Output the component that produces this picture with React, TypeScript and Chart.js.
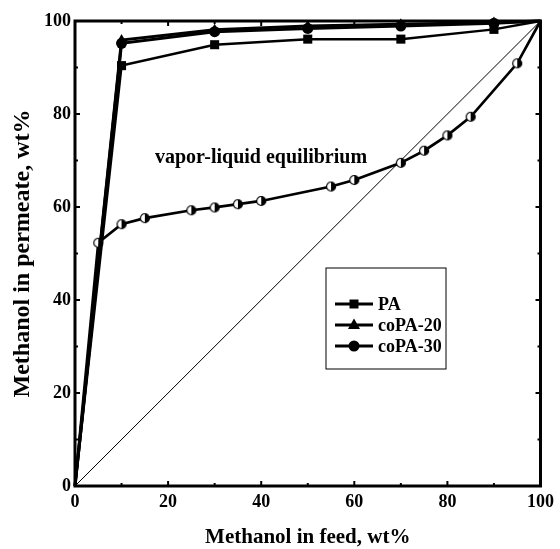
import { useEffect, useRef } from "react";
import { Chart, registerables } from "chart.js";

Chart.register(...registerables);

// Pervaporation: methanol content in permeate vs. feed
const membraneFeed = [0, 10, 30, 50, 70, 90, 100];
const paPermeate = [0, 90.4, 94.9, 96.1, 96.1, 98.2, 100];
const coPA20Permeate = [0, 95.9, 98.1, 98.9, 99.3, 99.7, 100];
const coPA30Permeate = [0, 95.2, 97.7, 98.4, 98.9, 99.5, 100];

// Vapor-liquid equilibrium curve
const vleFeed = [0, 5, 10, 15, 25, 30, 35, 40, 55, 60, 70, 75, 80, 85, 95, 100];
const vlePermeate = [0, 52.3, 56.3, 57.6, 59.3, 59.9, 60.6, 61.3, 64.4, 65.8, 69.5, 72.1, 75.4, 79.4, 90.9, 100];

const diagonal = [0, 100];
const axisTicks = [0, 10, 20, 30, 40, 50, 60, 70, 80, 90, 100];

const seriesNames = ["PA", "coPA-20", "coPA-30"];
const xTitle = "Methanol in feed, wt%";
const yTitle = "Methanol in permeate, wt%";
const caption = "vapor-liquid equilibrium";

const FONT = "'Liberation Serif', 'Times New Roman', serif";

const toPoints = (xs: number[], ys: number[]) => xs.map((x, i) => ({ x, y: ys[i] }));
const endRadius = (n: number, r: number) => Array.from({ length: n }, (_, i) => (i === 0 || i === n - 1 ? 0 : r));

function halfFilledCircle(r: number): HTMLCanvasElement {
  const size = Math.ceil(r * 2 + 3);
  const c = document.createElement("canvas");
  c.width = size;
  c.height = size;
  const g = c.getContext("2d")!;
  const cx = size / 2;
  g.beginPath();
  g.arc(cx, cx, r, 0, Math.PI * 2);
  g.fillStyle = "#fff";
  g.fill();
  g.beginPath();
  g.arc(cx, cx, r, -Math.PI / 2, Math.PI / 2);
  g.closePath();
  g.fillStyle = "#000";
  g.fill();
  g.beginPath();
  g.arc(cx, cx, r, 0, Math.PI * 2);
  g.lineWidth = 1.2;
  g.strokeStyle = "#000";
  g.stroke();
  return c;
}

function drawMarker(ctx: CanvasRenderingContext2D, style: string, x: number, y: number) {
  ctx.beginPath();
  if (style === "rect") {
    ctx.rect(x - 4.5, y - 4.5, 9, 9);
  } else if (style === "triangle") {
    ctx.moveTo(x, y - 6.5);
    ctx.lineTo(x + 6, y + 4);
    ctx.lineTo(x - 6, y + 4);
    ctx.closePath();
  } else {
    ctx.arc(x, y, 5.5, 0, Math.PI * 2);
  }
  ctx.fill();
}

const framePlugin = {
  id: "frame",
  afterDraw(chart: any) {
    const { ctx, chartArea: a, scales } = chart;
    ctx.save();
    ctx.strokeStyle = "#000";
    ctx.fillStyle = "#000";

    // inward ticks on all four sides
    ctx.lineWidth = 2;
    ctx.beginPath();
    for (const v of axisTicks) {
      const len = v % 20 === 0 ? 5 : 3;
      const x = scales.x.getPixelForValue(v);
      const y = scales.y.getPixelForValue(v);
      ctx.moveTo(x, a.bottom);
      ctx.lineTo(x, a.bottom - len);
      ctx.moveTo(x, a.top);
      ctx.lineTo(x, a.top + len);
      ctx.moveTo(a.left, y);
      ctx.lineTo(a.left + len, y);
      ctx.moveTo(a.right, y);
      ctx.lineTo(a.right - len, y);
    }
    ctx.stroke();

    // frame
    ctx.lineWidth = 3;
    ctx.strokeRect(a.left, a.top, a.right - a.left, a.bottom - a.top);

    // caption for the equilibrium curve
    ctx.font = `bold 20px ${FONT}`;
    ctx.textAlign = "left";
    ctx.textBaseline = "middle";
    ctx.fillText(caption, a.left + 80, a.top + 137);

    // legend
    const bx = a.left + 251;
    const by = a.top + 247;
    ctx.lineWidth = 1;
    ctx.strokeRect(bx, by, 120, 101);
    const styles = ["rect", "triangle", "circle"];
    const rows = [36, 57, 78];
    ctx.font = `bold 18px ${FONT}`;
    seriesNames.forEach((name, i) => {
      const y = by + rows[i];
      ctx.lineWidth = 3;
      ctx.beginPath();
      ctx.moveTo(bx + 9, y);
      ctx.lineTo(bx + 47, y);
      ctx.stroke();
      drawMarker(ctx, styles[i], bx + 28, y);
      ctx.fillText(name, bx + 52, y + 1);
    });
    ctx.restore();
  },
};

export default function App() {
  const canvasRef = useRef<HTMLCanvasElement | null>(null);

  useEffect(() => {
    if (!canvasRef.current) return;
    const halfDot = halfFilledCircle(4.5);
    const n = membraneFeed.length;

    const chart = new Chart(canvasRef.current, {
      type: "scatter",
      data: {
        datasets: [
          {
            label: seriesNames[2],
            data: toPoints(membraneFeed, coPA30Permeate),
            showLine: true,
            borderColor: "#000",
            backgroundColor: "#000",
            borderWidth: 3,
            pointStyle: "circle",
            pointRadius: endRadius(n, 5.5),
            pointBorderWidth: 0,
          },
          {
            label: seriesNames[1],
            data: toPoints(membraneFeed, coPA20Permeate),
            showLine: true,
            borderColor: "#000",
            backgroundColor: "#000",
            borderWidth: 3,
            pointStyle: "triangle",
            pointRadius: endRadius(n, 6),
            pointBorderWidth: 0,
          },
          {
            label: seriesNames[0],
            data: toPoints(membraneFeed, paPermeate),
            showLine: true,
            borderColor: "#000",
            backgroundColor: "#000",
            borderWidth: 2.5,
            pointStyle: "rect",
            pointRadius: endRadius(n, 6.4),
            pointBorderWidth: 0,
          },
          {
            label: caption,
            data: toPoints(vleFeed, vlePermeate),
            showLine: true,
            borderColor: "#000",
            backgroundColor: "#000",
            borderWidth: 2.7,
            pointStyle: vleFeed.map((_, i) => (i === 0 || i === vleFeed.length - 1 ? "circle" : halfDot)) as any,
            pointRadius: endRadius(vleFeed.length, 5),
          },
          {
            label: "y = x",
            data: toPoints(diagonal, diagonal),
            showLine: true,
            borderColor: "#000",
            borderWidth: 1,
            pointRadius: 0,
          },
        ],
      },
      options: {
        animation: false,
        responsive: false,
        maintainAspectRatio: false,
        clip: false as any,
        layout: { padding: { left: 0, top: 21, right: 15, bottom: 0 } },
        plugins: {
          legend: { display: false },
          tooltip: { enabled: false },
        },
        scales: {
          x: {
            type: "linear",
            min: 0,
            max: 100,
            grid: { display: false, drawTicks: false },
            border: { display: false },
            ticks: {
              stepSize: 20,
              padding: 6,
              color: "#000",
              font: { family: FONT, size: 18, weight: "bold" },
            },
            title: {
              display: true,
              text: xTitle,
              color: "#000",
              font: { family: FONT, size: 21, weight: "bold", lineHeight: 1 },
              padding: { top: 0, bottom: 1 },
            },
            afterFit: (scale: any) => {
              scale.height = 63;
            },
          },
          y: {
            type: "linear",
            min: 0,
            max: 100,
            grid: { display: false, drawTicks: false },
            border: { display: false },
            ticks: {
              stepSize: 20,
              padding: 4,
              color: "#000",
              font: { family: FONT, size: 18, weight: "bold" },
            },
            title: {
              display: true,
              text: yTitle,
              color: "#000",
              font: { family: FONT, size: 24, weight: "bold", lineHeight: 1 },
              padding: { top: 11, bottom: 0 },
            },
            afterFit: (scale: any) => {
              scale.width = 75;
            },
          },
        },
      },
      plugins: [framePlugin],
    });

    return () => chart.destroy();
  }, []);

  return (
    <div style={{ position: "fixed", left: 0, top: 0, width: 560, height: 549, background: "#fff" }}>
      <canvas ref={canvasRef} width={560} height={549} style={{ display: "block" }} />
    </div>
  );
}
